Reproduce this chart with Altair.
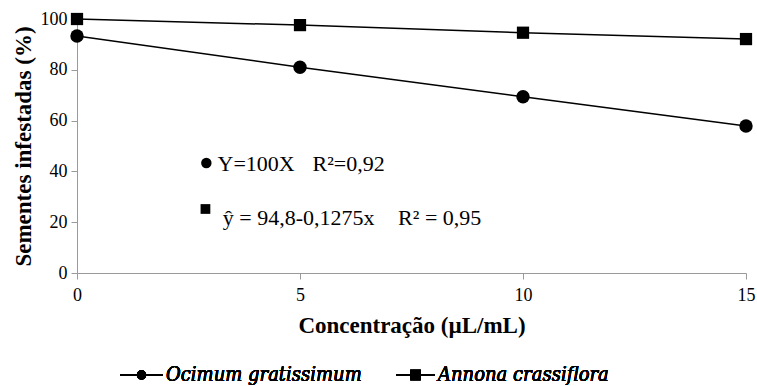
import altair as alt
import pandas as pd

# Concentration levels (µL/mL) and % infested seeds for each essential oil
conc = [0, 5, 10, 15]
ocimum = [93.3, 81.0, 69.4, 57.9]
annona = [100.0, 97.6, 94.6, 92.1]
species = ["Ocimum gratissimum", "Annona crassiflora"]

# Regression annotations (text, x, y in data units)
eq_text = ["Y=100X", "R²=0,92", "ŷ = 94,8-0,1275x", "R² = 0,95"]
eq_x = [3.15, 5.28, 3.27, 7.2]
eq_y = [42.8, 42.8, 21.5, 21.5]
eq_marker_x = [2.9, 2.88]
eq_marker_y = [43.3, 25.2]

SERIF = "Liberation Serif"
LEGEND_FONT = "DejaVu Serif Condensed"
AXIS_GREY = "#9a9a9a"

df = pd.DataFrame({
    "conc": conc * 2,
    "pct": ocimum + annona,
    "species": [species[0]] * len(conc) + [species[1]] * len(conc),
})

x_enc = alt.X(
    "conc:Q",
    scale=alt.Scale(domain=[0, 15], nice=False),
    axis=alt.Axis(
        values=[0, 5, 10, 15], grid=False, title="Concentração (µL/mL)",
        domainColor=AXIS_GREY, tickColor=AXIS_GREY, tickSize=6,
        labelFont=SERIF, labelFontSize=18, labelColor="black", labelPadding=7,
        titleFont=SERIF, titleFontSize=23, titleFontWeight="bold",
        titleColor="black", titlePadding=10, labelFlush=False,
    ),
)
y_enc = alt.Y(
    "pct:Q",
    scale=alt.Scale(domain=[0, 100], nice=False),
    axis=alt.Axis(
        values=[0, 20, 40, 60, 80, 100], grid=False,
        title="Sementes infestadas (%)",
        domainColor=AXIS_GREY, tickColor=AXIS_GREY, tickSize=6,
        labelFont=SERIF, labelFontSize=18, labelColor="black", labelPadding=4,
        titleFont=SERIF, titleFontSize=23, titleFontWeight="bold",
        titleColor="black", titlePadding=5,
    ),
)

base = alt.Chart(df)
lines = base.mark_line(color="black", strokeWidth=1.5).encode(
    x=x_enc, y=y_enc, detail="species:N"
)
circles = base.transform_filter(alt.datum.species == species[0]).mark_point(
    filled=True, color="black", opacity=1, shape="circle", size=180
).encode(x="conc:Q", y="pct:Q")
squares = base.transform_filter(alt.datum.species == species[1]).mark_point(
    filled=True, color="black", opacity=1, shape="square", size=150
).encode(x="conc:Q", y="pct:Q")

eq_df = pd.DataFrame({"x": eq_x, "y": eq_y, "t": eq_text})
eq_labels = alt.Chart(eq_df).mark_text(
    align="left", baseline="middle", font=SERIF, fontSize=22, color="black"
).encode(x="x:Q", y="y:Q", text="t:N")

mk_df = pd.DataFrame({"x": eq_marker_x, "y": eq_marker_y, "species": species})
mk_base = alt.Chart(mk_df)
eq_circle = mk_base.transform_filter(alt.datum.species == species[0]).mark_point(
    filled=True, color="black", opacity=1, shape="circle", size=110
).encode(x="x:Q", y="y:Q")
eq_square = mk_base.transform_filter(alt.datum.species == species[1]).mark_point(
    filled=True, color="black", opacity=1, shape="square", size=95
).encode(x="x:Q", y="y:Q")

# Bottom legend: line-with-marker swatch and italic species name
LEG_Y = 356
def legend_item(x0, x1, shape, size, label):
    rule = alt.Chart(df).mark_rule(color="black", strokeWidth=1.5).encode(
        x=alt.value(x0), x2=alt.value(x1), y=alt.value(LEG_Y)
    )
    mark = alt.Chart(df).mark_point(filled=True, color="black", opacity=1, shape=shape, size=size).encode(
        x=alt.value((x0 + x1) / 2), y=alt.value(LEG_Y)
    )
    text = alt.Chart(df).mark_text(
        align="left", baseline="middle", font=LEGEND_FONT, fontStyle="italic",
        fontSize=20, color="black", text=label
    ).encode(x=alt.value(x1 + 3), y=alt.value(LEG_Y))
    return rule + mark + text

legend = legend_item(43, 86, "circle", 90, species[0]) + legend_item(319, 358, "square", 110, species[1])

chart = (
    alt.layer(lines, circles, squares, eq_circle, eq_square, eq_labels, legend)
    .properties(
        width=669, height=254,
        padding={"left": 77, "top": 19, "right": 11, "bottom": 113},
        autosize="none",
        background="white",
    )
    .configure_view(stroke=None)
)

chart.save("out.html", embed_options={"renderer": "svg", "actions": False})
